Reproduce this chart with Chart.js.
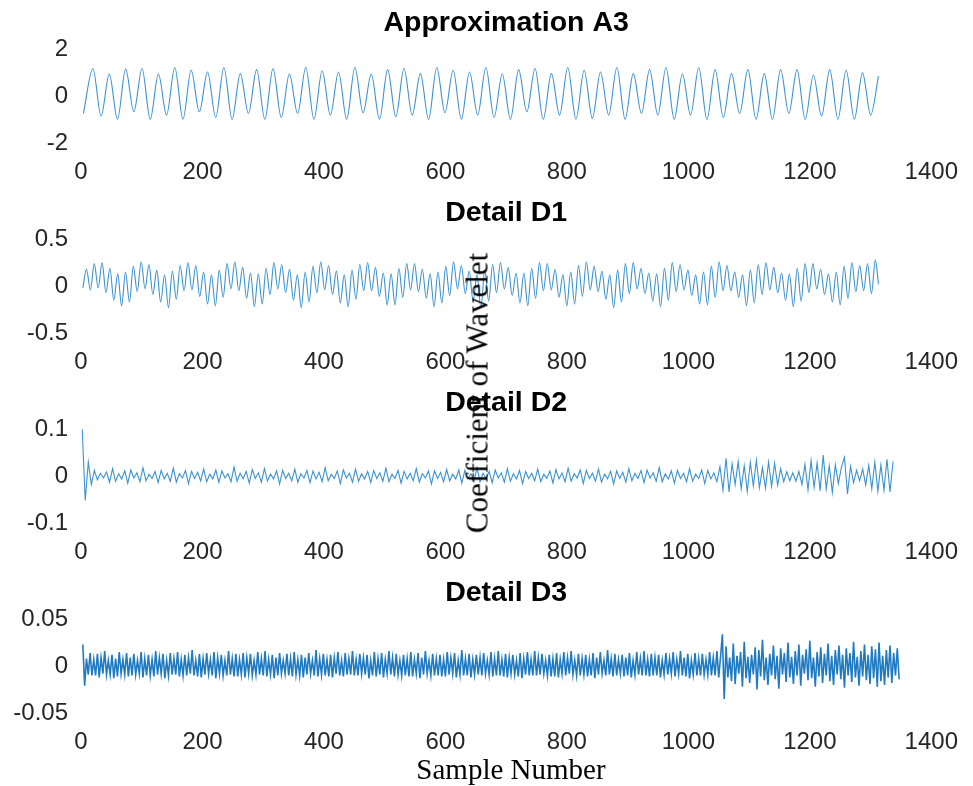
<!DOCTYPE html>
<html>
<head>
<meta charset="utf-8">
<title>Wavelet decomposition</title>
<script src="https://cdn.jsdelivr.net/npm/chart.js@4.4.1/dist/chart.umd.min.js"></script>
<style>
  body { margin: 0; background: #fff; }
  #page { position: relative; width: 973px; height: 786px; overflow: hidden; }
  #page canvas { position: absolute; left: 0; }
  .axis-label {
    position: absolute;
    font-family: "Liberation Serif", "Times New Roman", serif;
    color: #000;
    white-space: nowrap;
    line-height: 1;
    z-index: 5;
  }
  #xLabel { left: 511px; top: 755px; font-size: 29px; transform: translateX(-50%); }
  #yLabel { left: 477px; top: 393px; font-size: 31px; transform: translate(-50%, -50%) rotate(-90deg); }
</style>
</head>
<body>
<div id="page">
  <canvas id="chartA3" width="973" height="190" style="top:0px"></canvas>
  <canvas id="chartD1" width="973" height="190" style="top:190px"></canvas>
  <canvas id="chartD2" width="973" height="190" style="top:380px"></canvas>
  <canvas id="chartD3" width="973" height="190" style="top:570px"></canvas>
  <div id="xLabel" class="axis-label">Sample Number</div>
  <div id="yLabel" class="axis-label">Coefficient of Wavelet</div>
</div>
<script>
// ---- data ----
const xTicks = [0, 200, 400, 600, 800, 1000, 1200, 1400];

// Approximation A3: start point, first peak position, period (samples), peak / trough values
const a3Start = [4, -0.74];
const a3FirstPeak = 19.6;
const a3Period = 26.96;
const a3Peaks = [
  1.18, 0.94, 1.15, 1.18, 0.94, 1.22, 1.10, 1.03, 1.22, 0.96, 1.13, 1.18,
  0.94, 1.22, 1.08, 1.03, 1.22, 0.94, 1.13, 1.18, 0.96, 1.22, 1.10, 1.03,
  1.22, 0.94, 1.13, 1.18, 0.96, 1.22, 1.10, 1.03, 1.22, 0.96, 1.13, 1.22,
  0.94, 1.22, 1.13, 0.96, 1.13, 0.96, 1.13, 1.13, 0.89, 1.13, 1.10, 0.99
];
const a3Troughs = [
  -0.85, -0.99, -0.67, -0.99, -0.81, -0.99, -0.67, -0.91, -0.99, -0.74, -0.99, -0.91,
  -0.74, -0.99, -0.81, -0.99, -0.71, -0.99, -0.88, -0.81, -0.99, -0.71, -0.99, -0.81,
  -0.91, -0.99, -0.67, -0.99, -0.81, -0.99, -0.95, -0.81, -0.99, -0.74, -0.81, -0.99,
  -0.81, -0.99, -0.91, -0.74, -0.99, -0.99, -0.74, -0.99, -0.85, -0.99, -0.99, -0.81
];
const a3End = [1313, 0.85];

// Detail D1
const d1Start = [3, -0.02];
const d1FirstPeak = 9;
const d1Period = 12.86;
const d1Peaks = [
  0.18, 0.24, 0.25, 0.19, 0.13, 0.15, 0.21, 0.26, 0.23, 0.17, 0.12, 0.16,
  0.22, 0.25, 0.22, 0.15, 0.12, 0.17, 0.24, 0.26, 0.20, 0.14, 0.13, 0.19,
  0.25, 0.23, 0.18, 0.12, 0.15, 0.21, 0.26, 0.22, 0.16, 0.12, 0.17, 0.23,
  0.25, 0.20, 0.14, 0.13, 0.19, 0.24, 0.24, 0.18, 0.13, 0.15, 0.21, 0.26,
  0.22, 0.16, 0.12, 0.17, 0.23, 0.25, 0.20, 0.14, 0.14, 0.19, 0.25, 0.24,
  0.18, 0.12, 0.15, 0.22, 0.26, 0.21, 0.16, 0.12, 0.17, 0.24, 0.25, 0.19,
  0.14, 0.13, 0.19, 0.25, 0.23, 0.17, 0.12, 0.15, 0.21, 0.26, 0.22, 0.15,
  0.12, 0.17, 0.23, 0.25, 0.20, 0.14, 0.13, 0.19, 0.24, 0.24, 0.18, 0.13,
  0.15, 0.21, 0.25, 0.22, 0.24, 0.28
];
const d1Troughs = [
  -0.04, -0.02, -0.07, -0.15, -0.21, -0.17, -0.06, -0.03, -0.09, -0.17, -0.23, -0.14,
  -0.05, -0.04, -0.11, -0.19, -0.21, -0.12, -0.03, -0.05, -0.13, -0.22, -0.19, -0.09,
  -0.03, -0.07, -0.15, -0.23, -0.17, -0.07, -0.04, -0.09, -0.18, -0.22, -0.14, -0.05,
  -0.05, -0.11, -0.20, -0.20, -0.12, -0.04, -0.06, -0.13, -0.22, -0.18, -0.10, -0.03,
  -0.08, -0.16, -0.23, -0.16, -0.07, -0.03, -0.10, -0.18, -0.21, -0.13, -0.05, -0.04,
  -0.12, -0.21, -0.19, -0.11, -0.04, -0.06, -0.14, -0.23, -0.17, -0.08, -0.03, -0.08,
  -0.16, -0.22, -0.15, -0.06, -0.04, -0.10, -0.19, -0.20, -0.12, -0.05, -0.05, -0.12,
  -0.21, -0.18, -0.09, -0.04, -0.07, -0.15, -0.22, -0.16, -0.07, -0.03, -0.09, -0.17,
  -0.20, -0.13, -0.06, -0.05, -0.08
];
const d1End = [1313, 0.02];

// Detail D2: one value every 5 samples from sample 2
const d2First = 2;
const d2Step = 5;
const d2Values = [
  0.100, -0.052, 0.030,
  -0.018, 0.012, -0.008, 0.006, -0.004, 0.009, -0.013, 0.016, -0.011, 0.005,
  -0.006, 0.011, -0.015, 0.013, -0.004, 0.007, -0.012, 0.018, -0.010, 0.004,
  -0.005, 0.010, -0.014, 0.012, -0.006, 0.006, -0.011, 0.017, -0.013, 0.005,
  -0.004, 0.012, -0.016, 0.010, -0.005, 0.008, -0.010, 0.015, -0.012, 0.004,
  -0.006, 0.013, -0.013, 0.011, -0.004, 0.005, -0.012, 0.019, -0.011, 0.006,
  -0.005, 0.010, -0.015, 0.014, -0.005, 0.007, -0.013, 0.016, -0.010, 0.004,
  -0.006, 0.011, -0.017, 0.012, -0.005, 0.006, -0.010, 0.015, -0.013, 0.005,
  -0.004, 0.012, -0.014, 0.011, -0.006, 0.008, -0.012, 0.018, -0.010, 0.004,
  -0.005, 0.011, -0.016, 0.013, -0.004, 0.006, -0.013, 0.015, -0.011, 0.005,
  -0.006, 0.010, -0.014, 0.012, -0.005, 0.007, -0.011, 0.017, -0.012, 0.004,
  -0.005, 0.012, -0.015, 0.010, -0.006, 0.006, -0.010, 0.016, -0.013, 0.005,
  -0.004, 0.011, -0.017, 0.011, -0.005, 0.008, -0.012, 0.014, -0.010, 0.004,
  -0.006, 0.013, -0.015, 0.012, -0.005, 0.005, -0.011, 0.018, -0.012, 0.006,
  -0.005, 0.010, -0.014, 0.013, -0.004, 0.007, -0.013, 0.016, -0.011, 0.005,
  -0.006, 0.012, -0.016, 0.010, -0.005, 0.006, -0.010, 0.015, -0.012, 0.004,
  -0.005, 0.011, -0.015, 0.014, -0.006, 0.007, -0.012, 0.017, -0.011, 0.005,
  -0.004, 0.013, -0.016, 0.012, -0.005, 0.006, -0.011, 0.015, -0.013, 0.004,
  -0.006, 0.010, -0.017, 0.011, -0.005, 0.008, -0.013, 0.016, -0.010, 0.006,
  -0.005, 0.012, -0.014, 0.013, -0.004, 0.007, -0.011, 0.018, -0.012, 0.005,
  -0.006, 0.011, -0.015, 0.012, -0.005, 0.006, -0.012, 0.016, -0.011, 0.004,
  -0.005, 0.013, -0.016, 0.012, -0.006, 0.007, -0.012, 0.020,
  -0.030, 0.038, -0.034, 0.026, -0.018, 0.031, -0.027, 0.022, -0.033, 0.029,
  -0.021, 0.034, -0.025, 0.018, -0.026, 0.030, -0.022, 0.027, -0.019, 0.016,
  -0.012, 0.009, -0.010, 0.007, -0.011, 0.010, -0.018, 0.025, -0.029, 0.033,
  -0.024, 0.028, -0.031, 0.045, -0.027, 0.022, -0.035, 0.024, -0.016, 0.019,
  0.040, -0.038, 0.021, -0.014, 0.012, -0.010, 0.015, -0.019, 0.023, -0.027,
  0.030, -0.032, 0.024, -0.030, 0.036, -0.034, 0.031
];

// Detail D3: one value every 3 samples from sample 3
const d3First = 3;
const d3Step = 3;
const d3Values = [
  0.023, -0.021,
  0.008, -0.009, 0.014, -0.010, 0.007, -0.010, 0.013, -0.012, 0.009, -0.008, 0.016, -0.009,
  0.006, -0.009, 0.012, -0.013, 0.008, -0.011, 0.015, -0.008, 0.007, -0.009, 0.014, -0.011,
  0.009, -0.010, 0.013, -0.009, 0.006, -0.008, 0.015, -0.012, 0.008, -0.010, 0.012, -0.010,
  0.007, -0.011, 0.016, -0.009, 0.009, -0.008, 0.013, -0.013, 0.006, -0.010, 0.014, -0.009,
  0.008, -0.009, 0.015, -0.011, 0.007, -0.010, 0.012, -0.010, 0.009, -0.008, 0.017, -0.010,
  0.006, -0.011, 0.013, -0.012, 0.008, -0.009, 0.014, -0.008, 0.007, -0.010, 0.015, -0.013,
  0.009, -0.008, 0.012, -0.010, 0.006, -0.010, 0.016, -0.009, 0.008, -0.011, 0.013, -0.011,
  0.007, -0.009, 0.014, -0.012, 0.009, -0.008, 0.013, -0.010, 0.006, -0.009, 0.015, -0.009,
  0.008, -0.010, 0.016, -0.011, 0.007, -0.009, 0.012, -0.013, 0.009, -0.010, 0.014, -0.008,
  0.006, -0.008, 0.013, -0.010, 0.008, -0.011, 0.015, -0.009, 0.007, -0.010, 0.012, -0.012,
  0.009, -0.009, 0.014, -0.008, 0.006, -0.010, 0.017, -0.011, 0.008, -0.009, 0.013, -0.010,
  0.007, -0.011, 0.012, -0.012, 0.009, -0.008, 0.015, -0.010, 0.006, -0.011, 0.014, -0.009,
  0.008, -0.009, 0.016, -0.010, 0.007, -0.010, 0.013, -0.008, 0.009, -0.009, 0.012, -0.013,
  0.006, -0.010, 0.015, -0.011, 0.008, -0.009, 0.014, -0.012, 0.007, -0.008, 0.016, -0.009,
  0.009, -0.011, 0.013, -0.009, 0.006, -0.010, 0.012, -0.010, 0.008, -0.011, 0.015, -0.011,
  0.007, -0.008, 0.014, -0.013, 0.009, -0.009, 0.016, -0.008, 0.006, -0.010, 0.013, -0.010,
  0.008, -0.010, 0.012, -0.011, 0.007, -0.011, 0.015, -0.009, 0.009, -0.008, 0.014, -0.012,
  0.006, -0.009, 0.017, -0.010, 0.008, -0.010, 0.013, -0.012, 0.007, -0.009, 0.012, -0.009,
  0.009, -0.010, 0.014, -0.008, 0.006, -0.009, 0.015, -0.011, 0.008, -0.010, 0.016, -0.010,
  0.007, -0.011, 0.013, -0.012, 0.009, -0.008, 0.012, -0.009, 0.006, -0.011, 0.014, -0.013,
  0.008, -0.009, 0.015, -0.010, 0.007, -0.010, 0.016, -0.010, 0.009, -0.009, 0.013, -0.008,
  0.006, -0.010, 0.012, -0.011, 0.008, -0.011, 0.014, -0.012, 0.007, -0.008, 0.015, -0.010,
  0.009, -0.008, 0.016, -0.009, 0.006, -0.010, 0.013, -0.010, 0.008, -0.009, 0.012, -0.011,
  0.007, -0.010, 0.014, -0.013, 0.009, -0.009, 0.015, -0.008, 0.006, -0.010, 0.017, -0.009,
  0.008, -0.011, 0.013, -0.010, 0.007, -0.008, 0.012, -0.011, 0.009, -0.010, 0.014, -0.012,
  0.006, -0.009, 0.015, -0.009, 0.008, -0.010, 0.016, -0.010, 0.007, -0.011, 0.013, -0.010,
  0.009, -0.010, 0.012, -0.012, 0.006, -0.009, 0.014, -0.009, 0.008, -0.008, 0.015, -0.011,
  0.007, -0.008, 0.016, -0.010, 0.009, -0.011, 0.013, -0.013, 0.006, -0.009, 0.014, -0.010,
  0.008, -0.010, 0.013, -0.009, 0.007, -0.009, 0.015, -0.010, 0.009, -0.010, 0.016, -0.012,
  0.010,
  0.034, -0.035, 0.021, -0.012, 0.009, -0.016, 0.024, -0.019, 0.011, -0.008,
  0.015, -0.022, 0.026, -0.013, 0.010, -0.018, 0.012, -0.009, 0.020, -0.025,
  0.017, -0.011, 0.028, -0.015, 0.009, -0.020, 0.013, -0.010, 0.022, -0.014,
  0.011, -0.024, 0.019, -0.009, 0.014, -0.017, 0.025, -0.012, 0.010, -0.019,
  0.016, -0.010, 0.023, -0.021, 0.012, -0.008, 0.018, -0.015, 0.027, -0.013,
  0.009, -0.022, 0.015, -0.011, 0.020, -0.018, 0.013, -0.010, 0.024, -0.016,
  0.011, -0.020, 0.017, -0.009, 0.022, -0.014, 0.012, -0.023, 0.019, -0.010,
  0.014, -0.017, 0.026, -0.012, 0.010, -0.021, 0.016, -0.011, 0.023, -0.015,
  0.012, -0.019, 0.021, -0.013, 0.018, -0.022, 0.025, -0.016, 0.011, -0.020,
  0.017, -0.012, 0.022, -0.018, 0.014, -0.010, 0.019, -0.014
];

// ---- styling ----
const thinLineColor = "#3b92d0";
const denseLineColor = "#1f7ac2";
const tickColor = "#262626";
const sansFont = '"Liberation Sans", Arial, Helvetica, sans-serif';

// turn peak/trough lists into points along the sample axis
function extremaSeries(start, firstPeak, period, peaks, troughs, end) {
  const pts = [{ x: start[0], y: start[1] }];
  peaks.forEach((p, i) => {
    pts.push({ x: firstPeak + i * period, y: p });
    if (i < troughs.length) {
      pts.push({ x: firstPeak + (i + 0.5) * period, y: troughs[i] });
    }
  });
  pts.push({ x: end[0], y: end[1] });
  return pts;
}

function uniformSeries(first, step, values) {
  return values.map((v, i) => ({ x: first + i * step, y: v }));
}

function makePanel(id, title, points, yMin, yMax, yStep, smooth, color, width) {
  return new Chart(document.getElementById(id), {
    type: "line",
    data: {
      datasets: [
        {
          data: points,
          borderColor: color,
          borderWidth: width,
          pointRadius: 0,
          fill: false,
          cubicInterpolationMode: smooth ? "monotone" : "default",
          tension: 0,
        },
      ],
    },
    options: {
      responsive: false,
      animation: false,
      devicePixelRatio: 1,
      layout: { padding: { left: 0, right: 36, top: 0, bottom: 0 } },
      plugins: {
        legend: { display: false },
        tooltip: { enabled: false },
        title: {
          display: true,
          text: title,
          color: "#000",
          fullSize: false,
          font: { family: sansFont, size: 28.5, weight: "bold" },
          padding: { top: 6, bottom: 9 },
        },
      },
      scales: {
        x: {
          type: "linear",
          min: xTicks[0],
          max: xTicks[xTicks.length - 1],
          afterBuildTicks: (scale) => {
            scale.ticks = xTicks.map((v) => ({ value: v }));
          },
          ticks: {
            color: tickColor,
            font: { family: sansFont, size: 24 },
            padding: 15,
            maxRotation: 0,
            callback: (v) => String(v),
          },
          grid: { display: false, drawTicks: false },
          border: { display: false },
          afterFit: (scale) => {
            scale.height = 47;
          },
        },
        y: {
          min: yMin,
          max: yMax,
          ticks: {
            stepSize: yStep,
            color: tickColor,
            font: { family: sansFont, size: 24 },
            padding: 13,
            callback: (v) => String(+Number(v).toFixed(3)),
          },
          grid: { display: false, drawTicks: false },
          border: { display: false },
          afterFit: (scale) => {
            scale.width = 81;
          },
        },
      },
    },
  });
}

makePanel("chartA3", "Approximation A3",
  extremaSeries(a3Start, a3FirstPeak, a3Period, a3Peaks, a3Troughs, a3End),
  -2, 2, 2, true, thinLineColor, 1.1);
makePanel("chartD1", "Detail D1",
  extremaSeries(d1Start, d1FirstPeak, d1Period, d1Peaks, d1Troughs, d1End),
  -0.5, 0.5, 0.5, true, thinLineColor, 1.1);
makePanel("chartD2", "Detail D2",
  uniformSeries(d2First, d2Step, d2Values),
  -0.1, 0.1, 0.1, false, thinLineColor, 1.1);
makePanel("chartD3", "Detail D3",
  uniformSeries(d3First, d3Step, d3Values),
  -0.05, 0.05, 0.05, false, denseLineColor, 1.6);
</script>
</body>
</html>
